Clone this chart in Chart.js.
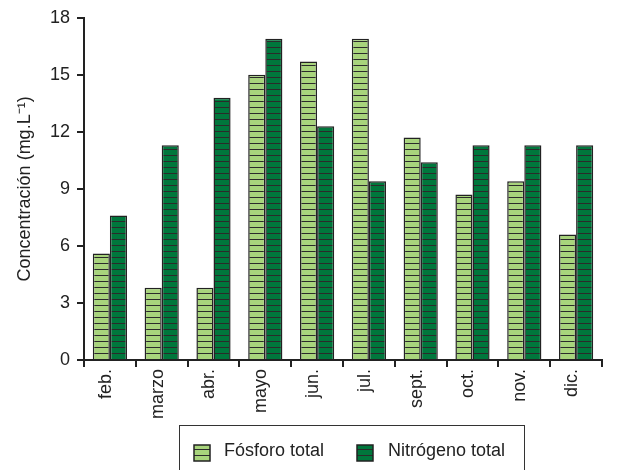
<!DOCTYPE html>
<html lang="es">
<head>
    <meta charset="UTF-8">
    <title>Concentración</title>
    <script src="https://cdn.jsdelivr.net/npm/chart.js"></script>
    <style>
        html, body { margin: 0; padding: 0; background: #fff; }
        #wrap { width: 621px; height: 470px; }
    </style>
</head>
<body>
    <div id="wrap"><canvas id="chart" width="621" height="470"></canvas></div>

    <script>
        const months = ["feb.", "marzo", "abr.", "mayo", "jun.", "jul.", "sept.", "oct.", "nov.", "dic."];
        const fosforo = [5.6, 3.8, 3.8, 15.0, 15.7, 16.9, 11.7, 8.7, 9.4, 6.6];
        const nitrogeno = [7.6, 11.3, 13.8, 16.9, 12.3, 9.4, 10.4, 11.3, 11.3, 11.3];
        const yTicks = [0, 3, 6, 9, 12, 15, 18];

        const FONT = "'Liberation Sans', Arial, sans-serif";

        // striped fill like the original figure
        function stripes(fill) {
            const c = document.createElement("canvas");
            c.width = 6; c.height = 6;
            const g = c.getContext("2d");
            g.fillStyle = fill;
            g.fillRect(0, 0, 6, 6);
            g.fillStyle = "#2b2b2b";
            g.fillRect(0, 5, 6, 1);
            return g.createPattern(c, "repeat");
        }

        const lightFill = stripes("#a8d47c");
        const darkFill = stripes("#00773c");

        // framed legend under the plot
        const boxLegend = {
            id: "boxLegend",
            afterDraw(chart) {
                const ctx = chart.ctx;
                ctx.save();
                ctx.strokeStyle = "#333";
                ctx.lineWidth = 1;
                ctx.strokeRect(179.5, 425.5, 345, 60);
                const items = [
                    { x: 194, tx: 224, ds: chart.data.datasets[0] },
                    { x: 357, tx: 388, ds: chart.data.datasets[1] }
                ];
                ctx.font = "18px " + FONT;
                ctx.textBaseline = "middle";
                items.forEach(it => {
                    ctx.fillStyle = it.ds.backgroundColor;
                    ctx.fillRect(it.x, 445, 16, 16);
                    ctx.strokeStyle = "#222";
                    ctx.lineWidth = 1.5;
                    ctx.strokeRect(it.x, 445, 16, 16);
                    ctx.fillStyle = "#222";
                    ctx.fillText(it.ds.label, it.tx, 451);
                });
                ctx.restore();
            }
        };

        new Chart(document.getElementById("chart"), {
            type: "bar",
            data: {
                labels: months,
                datasets: [{
                    label: "Fósforo total",
                    data: fosforo,
                    backgroundColor: lightFill,
                    borderColor: "#222",
                    borderWidth: 1.5
                }, {
                    label: "Nitrógeno total",
                    data: nitrogeno,
                    backgroundColor: darkFill,
                    borderColor: "#222",
                    borderWidth: 1.5
                }]
            },
            options: {
                responsive: false,
                animation: false,
                layout: { padding: { top: 15, right: 19, bottom: 0, left: 0 } },
                plugins: {
                    legend: { display: false },
                    tooltip: { enabled: false }
                },
                datasets: {
                    bar: { categoryPercentage: 0.66, barPercentage: 1.0 }
                },
                scales: {
                    x: {
                        afterFit(scale) { scale.height = 110; },
                        grid: {
                            drawOnChartArea: false,
                            drawTicks: true,
                            tickLength: 7,
                            color: "#222",
                            lineWidth: 2,
                            offset: true
                        },
                        border: { color: "#222", width: 2 },
                        ticks: {
                            color: "#222",
                            font: { family: FONT, size: 18 },
                            minRotation: 90,
                            maxRotation: 90,
                            labelOffset: -4,
                            padding: 2
                        }
                    },
                    y: {
                        min: 0,
                        max: 18,
                        afterFit(scale) { scale.width = 84; },
                        afterBuildTicks(scale) { scale.ticks = yTicks.map(v => ({ value: v })); },
                        grid: {
                            drawOnChartArea: false,
                            drawTicks: true,
                            tickLength: 7,
                            color: "#222",
                            lineWidth: 2
                        },
                        border: { color: "#222", width: 2 },
                        ticks: {
                            color: "#222",
                            font: { family: FONT, size: 18 },
                            padding: 7
                        },
                        title: {
                            display: true,
                            text: "Concentración (mg.L⁻¹)",
                            color: "#222",
                            font: { family: FONT, size: 18 },
                            padding: { top: 14, bottom: 0 }
                        }
                    }
                }
            },
            plugins: [boxLegend]
        });
    </script>
</body>
</html>
